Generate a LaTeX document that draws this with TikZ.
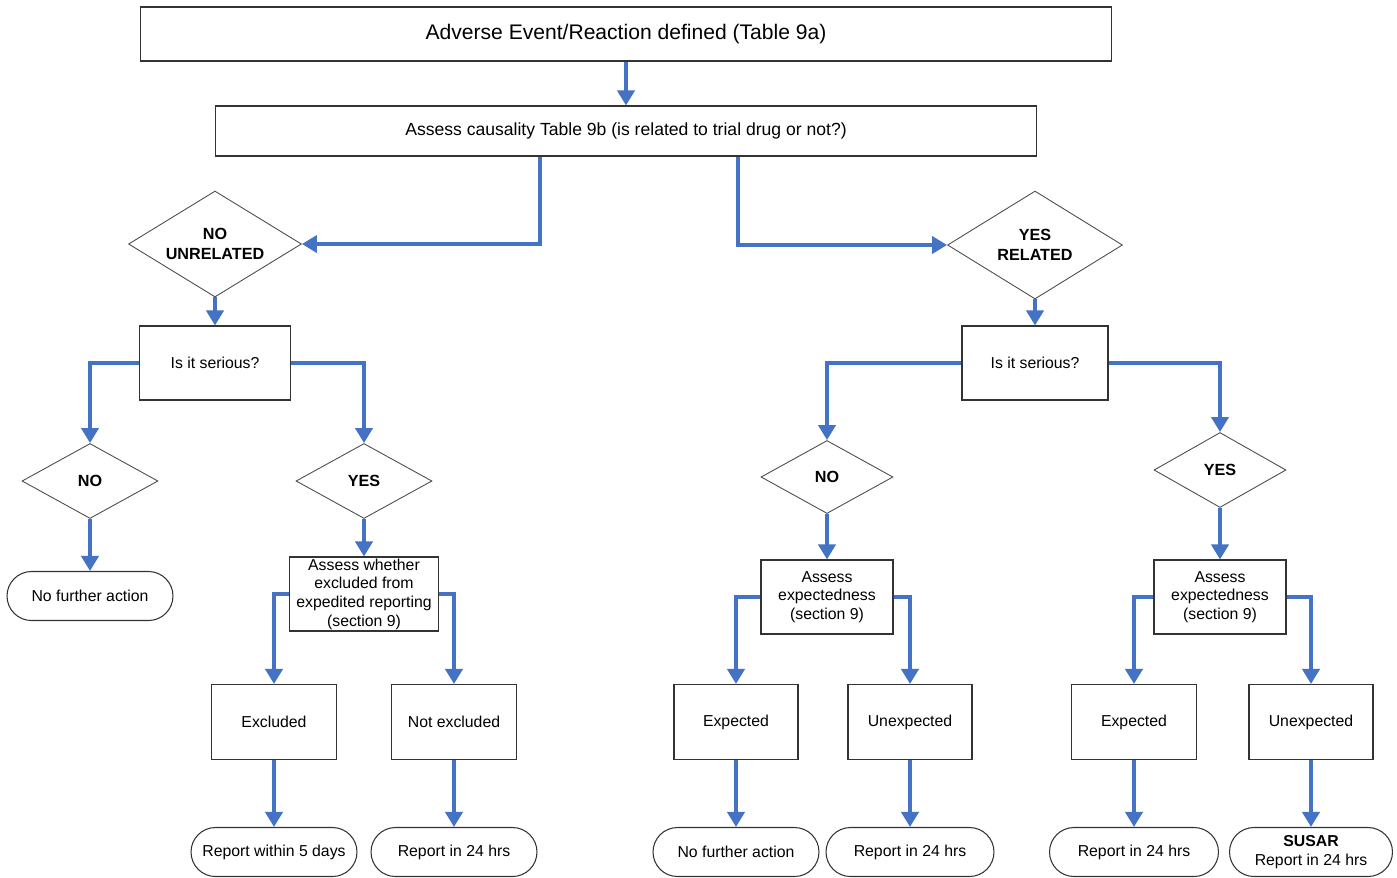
\documentclass[tikz,border=0pt]{standalone}
\usepackage{fontspec}
\setmainfont{Liberation Sans}
\usetikzlibrary{shapes.geometric,arrows.meta}
\definecolor{flowblue}{HTML}{4472C4}

\begin{document}
\begin{tikzpicture}[x=0.02cm, y=-0.02cm,
    flow/.style={draw=flowblue, line width=2.8pt, -{Triangle[length=0.3cm, width=0.34cm]}},
    box/.style={draw=black!80, line width=0.6pt, rectangle, align=center, inner sep=1pt, font=\fontsize{9}{10.6}\selectfont},
    dec/.style={draw=black!70, line width=0.5pt, diamond, aspect=1.7, align=center, inner sep=0pt, font=\fontsize{9.2}{11.5}\selectfont\bfseries},
    term/.style={draw=black!80, line width=0.6pt, rectangle, rounded corners=0.49cm, align=center, inner sep=1pt,
        minimum width=3.32cm, minimum height=0.98cm, font=\fontsize{9}{10.6}\selectfont}]

    \useasboundingbox (0,0) rectangle (1397,877);

    % === top boxes ===
    \node[box, minimum width=19.44cm, minimum height=1.08cm, font=\fontsize{12}{14}\selectfont] (adverse) at (626,34) {Adverse Event/Reaction defined (Table 9a)};
    \node[box, minimum width=16.44cm, minimum height=1cm, font=\fontsize{10}{12}\selectfont] (cause) at (626,131) {Assess causality Table 9b (is related to trial drug or not?)};

    % === related or not ===
    \node[dec, minimum width=3.46cm, minimum height=2.12cm] (unrel) at (215,244) {NO\\UNRELATED};
    \node[dec, minimum width=3.5cm, minimum height=2.16cm] (rel) at (1035,245) {YES\\RELATED};

    % === is it serious ===
    \node[box, minimum width=3.02cm, minimum height=1.48cm] (serA) at (215,363) {Is it serious?};
    \node[box, minimum width=2.92cm, minimum height=1.48cm] (serB) at (1035,363) {Is it serious?};

    % === yes / no ===
    \node[dec, minimum width=2.72cm, minimum height=1.5cm] (noA) at (90,481) {NO};
    \node[dec, minimum width=2.72cm, minimum height=1.5cm] (yesA) at (364,481) {YES};
    \node[dec, minimum width=2.64cm, minimum height=1.46cm] (noB) at (827,477) {NO};
    \node[dec, minimum width=2.64cm, minimum height=1.5cm] (yesB) at (1220,470) {YES};

    % === assessment boxes ===
    \node[term] (noactA) at (90,596) {No further action};
    \node[box, minimum width=2.98cm, minimum height=1.48cm, inner sep=0pt] (exclA) at (364,594) {Assess whether\\excluded from\\expedited reporting\\(section 9)};
    \node[box, minimum width=2.64cm, minimum height=1.48cm] (expB) at (827,597) {Assess\\expectedness\\(section 9)};
    \node[box, minimum width=2.64cm, minimum height=1.48cm] (expC) at (1220,597) {Assess\\expectedness\\(section 9)};

    % === outcome boxes ===
    \node[box, minimum width=2.5cm, minimum height=1.5cm] (excl) at (274,722) {Excluded};
    \node[box, minimum width=2.5cm, minimum height=1.5cm] (notexcl) at (454,722) {Not excluded};
    \node[box, minimum width=2.48cm, minimum height=1.5cm] (expdB) at (736,722) {Expected};
    \node[box, minimum width=2.48cm, minimum height=1.5cm] (unexpB) at (910,722) {Unexpected};
    \node[box, minimum width=2.5cm, minimum height=1.5cm] (expdC) at (1134,722) {Expected};
    \node[box, minimum width=2.48cm, minimum height=1.5cm] (unexpC) at (1311,722) {Unexpected};

    % === reporting ===
    \node[term] (rep5) at (274,852) {Report within 5 days};
    \node[term] (rep24A) at (454,852) {Report in 24 hrs};
    \node[term] (noactB) at (736,852) {No further action};
    \node[term, minimum width=3.36cm] (rep24B) at (910,852) {Report in 24 hrs};
    \node[term, minimum width=3.38cm] (rep24C) at (1134,852) {Report in 24 hrs};
    \node[term, minimum width=3.26cm] (susar) at (1311,852) {\textbf{SUSAR}\\Report in 24 hrs};

    % === connectors ===
    \draw[flow] (adverse) -- (cause);
    \draw[flow] ([xshift=-1.72cm]cause.south) |- (unrel.east);
    \draw[flow] ([xshift=2.24cm]cause.south) |- (rel.west);

    % left half
    \draw[flow] (unrel) -- (serA);
    \draw[flow] (serA.west) -| (noA.north);
    \draw[flow] (serA.east) -| (yesA.north);
    \draw[flow] (noA) -- (noactA);
    \draw[flow] (yesA) -- (exclA);
    \draw[flow] (exclA.west) -| (excl.north);
    \draw[flow] (exclA.east) -| (notexcl.north);
    \draw[flow] (excl) -- (rep5);
    \draw[flow] (notexcl) -- (rep24A);

    % right half
    \draw[flow] (rel) -- (serB);
    \draw[flow] (serB.west) -| (noB.north);
    \draw[flow] (serB.east) -| (yesB.north);
    \draw[flow] (noB) -- (expB);
    \draw[flow] (yesB) -- (expC);
    \draw[flow] (expB.west) -| (expdB.north);
    \draw[flow] (expB.east) -| (unexpB.north);
    \draw[flow] (expC.west) -| (expdC.north);
    \draw[flow] (expC.east) -| (unexpC.north);
    \draw[flow] (expdB) -- (noactB);
    \draw[flow] (unexpB) -- (rep24B);
    \draw[flow] (expdC) -- (rep24C);
    \draw[flow] (unexpC) -- (susar);

\end{tikzpicture}
\end{document}
